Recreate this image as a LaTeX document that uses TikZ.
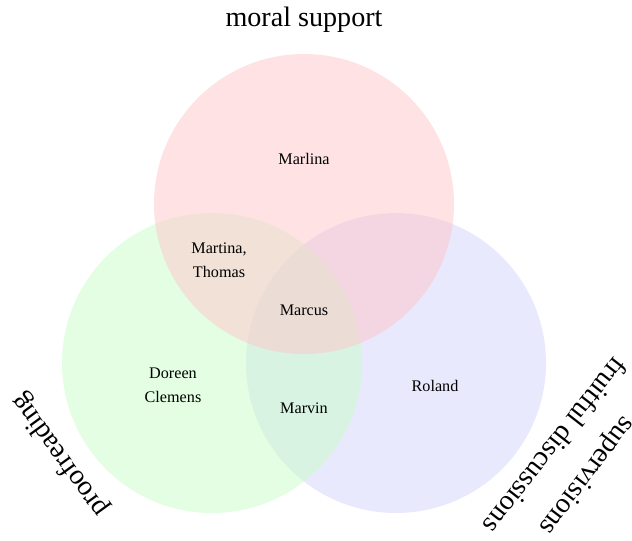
\documentclass[tikz,border=0pt]{standalone}
\usepackage{fontspec}
\setmainfont{Liberation Serif}
\usepackage{xcolor}
\usepackage{tikz}
\usetikzlibrary{positioning}

\definecolor{supportred}{RGB}{255,197,201}
\definecolor{proofgreen}{RGB}{199,253,199}
\definecolor{discblue}{RGB}{211,211,251}

\begin{document}
\begin{tikzpicture}[
    % Set styles
    set/.style={circle, minimum size=7.5cm, inner sep=0pt, fill opacity=0.5, text opacity=1},
    % Text styles
    person/.style={align=center, font=\fontsize{11.5}{17}\selectfont},
    setlabel/.style={font=\fontsize{20}{24}\selectfont, inner sep=0pt}
]
    \useasboundingbox (0,0) rectangle (15.8,13.5);

    % Sets (blue below, red on top)
    \node [set, fill=discblue] (discussions) at (9.9,4.425) {};
    \node [set, fill=proofgreen] (proofreading) at (5.3,4.425) {};
    \node [set, fill=supportred] (support) at (7.6,8.4) {};

    % Set labels
    \node [setlabel] (supportlabel) at (7.6,13.0) {moral support};
    \node [setlabel, rotate=126] (prooflabel) at (1.5,2.125) {proofreading};
    \node [setlabel, rotate=232] (disclabel) at (13.9,2.35) {fruitful discussions};
    \node [setlabel, rotate=233] (superlabel) at (14.65,1.625) {supervisions};

    % People
    \node [person] (marlina) at (7.6,9.525) {Marlina};
    \node [person] (martina) at (5.475,7.0) {Martina,\\Thomas};
    \node [person] (marcus) at (7.6,5.75) {Marcus};
    \node [person] (doreen) at (4.325,3.875) {Doreen\\Clemens};
    \node [person] (marvin) at (7.6,3.3) {Marvin};
    \node [person] (roland) at (10.875,3.85) {Roland};
\end{tikzpicture}
\end{document}
